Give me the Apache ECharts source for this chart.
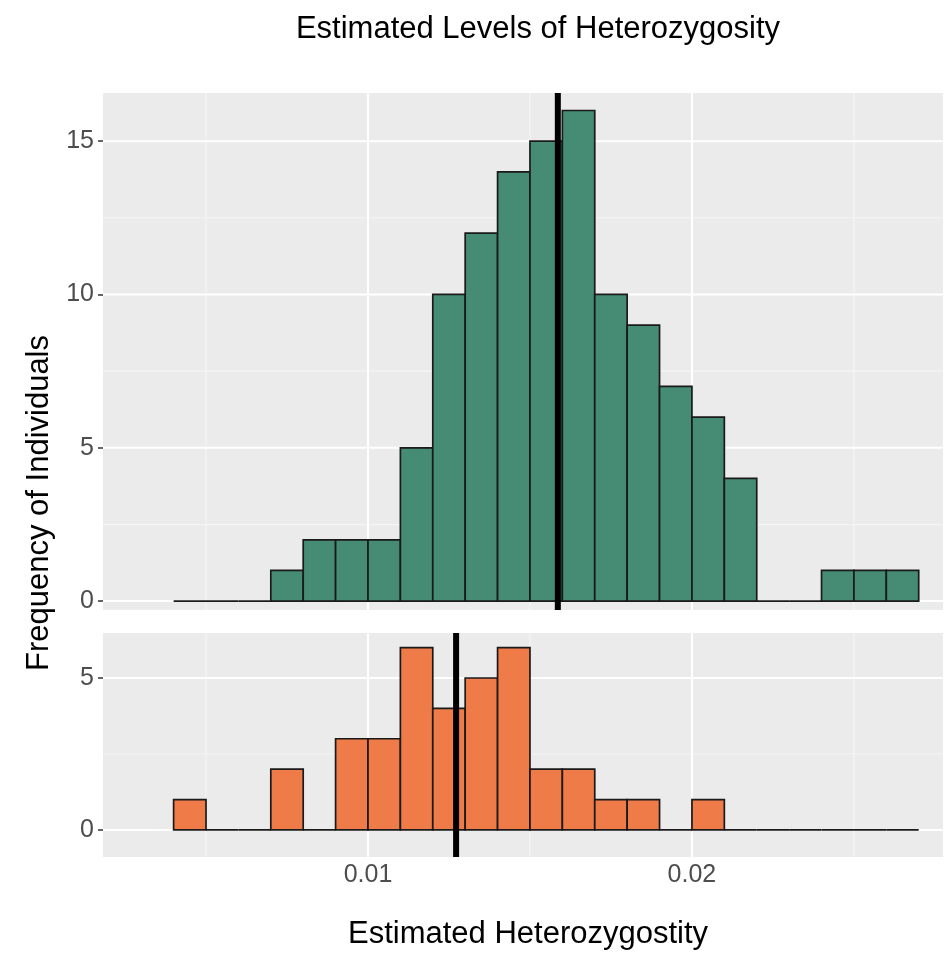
<!DOCTYPE html>
<html>
<head>
<meta charset="utf-8">
<title>Estimated Levels of Heterozygosity</title>
<script src="https://cdn.jsdelivr.net/npm/echarts@6/dist/echarts.min.js"></script>
<style>
  html, body { margin: 0; padding: 0; background: #fff; }
  #chart { width: 945px; height: 956px; }
</style>
</head>
<body>
<div id="chart"></div>
<script>
// histogram bins (left edge of each bin), width 0.001
const BIN_WIDTH = 0.001
const binStarts = [0.004, 0.005, 0.006, 0.007, 0.008, 0.009, 0.010, 0.011, 0.012, 0.013, 0.014, 0.015,
  0.016, 0.017, 0.018, 0.019, 0.020, 0.021, 0.022, 0.023, 0.024, 0.025, 0.026]
// counts per bin, top panel (green) and bottom panel (orange)
const countsTop = [0, 0, 0, 1, 2, 2, 2, 5, 10, 12, 14, 15, 16, 10, 9, 7, 6, 4, 0, 0, 1, 1, 1]
const countsBottom = [1, 0, 0, 2, 0, 3, 3, 6, 4, 5, 6, 2, 2, 1, 1, 0, 1, 0, 0, 0, 0, 0, 0]
// mean lines
const meanTop = 0.01586
const meanBottom = 0.01272
// tick labels / grid lines
const xTicks = [0.01, 0.02]
const xMinor = [0.005, 0.015, 0.025]
const yTicksTop = [0, 5, 10, 15]
const yMinorTop = [2.5, 7.5, 12.5]
const yTicksBottom = [0, 5]
const yMinorBottom = [2.5]

const FONT = '"Liberation Sans", Arial, Helvetica, sans-serif'
const X_MIN = 0.00182
const X_MAX = 0.02775

const chart = echarts.init(document.getElementById('chart'))

function histSeries(idx, counts, color) {
  return {
    type: 'custom',
    xAxisIndex: idx,
    yAxisIndex: idx,
    z: 3,
    encode: { x: [0, 1], y: 2 },
    data: binStarts.map((s, i) => [s, s + BIN_WIDTH, counts[i]]),
    renderItem(params, api) {
      const p0 = api.coord([api.value(0), api.value(2)])
      const p1 = api.coord([api.value(1), 0])
      if (api.value(2) === 0) {
        return {
          type: 'line',
          shape: { x1: p0[0], y1: p1[1], x2: p1[0], y2: p1[1] },
          style: { stroke: '#1a1a1a', lineWidth: 1.7 }
        }
      }
      return {
        type: 'rect',
        shape: { x: p0[0], y: p0[1], width: p1[0] - p0[0], height: p1[1] - p0[1] },
        style: { fill: color, stroke: '#1a1a1a', lineWidth: 1.7 }
      }
    }
  }
}

// grid lines drawn from the axis scale
function gridLines(idx, values, dir, width, color) {
  return {
    type: 'custom',
    xAxisIndex: idx,
    yAxisIndex: idx,
    z: 1,
    silent: true,
    data: values.map(v => [v]),
    renderItem(params, api) {
      const cs = params.coordSys
      const v = api.value(0)
      if (dir === 'h') {
        const y = api.coord([X_MIN, v])[1]
        return { type: 'line', shape: { x1: cs.x, y1: y, x2: cs.x + cs.width, y2: y }, style: { stroke: color, lineWidth: width } }
      }
      const x = api.coord([v, 0])[0]
      return { type: 'line', shape: { x1: x, y1: cs.y, x2: x, y2: cs.y + cs.height }, style: { stroke: color, lineWidth: width } }
    }
  }
}

function meanLine(idx, mean) {
  return {
    type: 'custom',
    xAxisIndex: idx,
    yAxisIndex: idx,
    z: 5,
    silent: true,
    data: [[mean]],
    renderItem(params, api) {
      const cs = params.coordSys
      const x = api.coord([api.value(0), 0])[0]
      return { type: 'line', shape: { x1: x, y1: cs.y, x2: x, y2: cs.y + cs.height }, style: { stroke: '#000', lineWidth: 6 } }
    }
  }
}

const tickStyle = { show: true, length: 5, lineStyle: { color: '#333', width: 1.5 } }
const labelStyle = { color: '#4d4d4d', fontSize: 25, fontFamily: FONT }

function xAxis(idx, showLabels) {
  return {
    type: 'value',
    gridIndex: idx,
    min: X_MIN,
    max: X_MAX,
    splitLine: { show: false },
    axisLine: { show: false },
    axisTick: Object.assign({}, tickStyle, { show: showLabels, customValues: xTicks }),
    axisLabel: Object.assign({}, labelStyle, {
      show: showLabels,
      margin: 6,
      customValues: xTicks,
      formatter: v => v.toFixed(2)
    })
  }
}

function yAxis(idx, min, max, ticks) {
  return {
    type: 'value',
    gridIndex: idx,
    min: min,
    max: max,
    splitLine: { show: false },
    axisLine: { show: false },
    axisTick: Object.assign({}, tickStyle, { customValues: ticks }),
    axisLabel: Object.assign({}, labelStyle, { margin: 9, customValues: ticks })
  }
}

const option = {
  animation: false,
  backgroundColor: '#fff',
  grid: [
    { left: 103, top: 93, width: 840, height: 517, show: true, backgroundColor: '#ebebeb', borderWidth: 0 },
    { left: 103, top: 633, width: 840, height: 224, show: true, backgroundColor: '#ebebeb', borderWidth: 0 }
  ],
  xAxis: [xAxis(0, false), xAxis(1, true)],
  yAxis: [yAxis(0, -0.29, 16.57, yTicksTop), yAxis(1, -0.89, 6.48, yTicksBottom)],
  graphic: [
    {
      type: 'text', x: 538, y: 29,
      style: { text: 'Estimated Levels of Heterozygosity', fill: '#000', fontSize: 31, fontFamily: FONT, align: 'center', verticalAlign: 'middle' }
    },
    {
      type: 'text', x: 528, y: 934,
      style: { text: 'Estimated Heterozygostity', fill: '#000', fontSize: 31, fontFamily: FONT, align: 'center', verticalAlign: 'middle' }
    },
    {
      type: 'text', x: 39, y: 503, rotation: Math.PI / 2,
      style: { text: 'Frequency of Individuals', fill: '#000', fontSize: 31, fontFamily: FONT, align: 'center', verticalAlign: 'middle' }
    }
  ],
  series: [
    gridLines(0, xMinor, 'v', 1.1, '#f6f6f6'),
    gridLines(0, yMinorTop, 'h', 1.1, '#f6f6f6'),
    gridLines(0, xTicks, 'v', 2, '#ffffff'),
    gridLines(0, yTicksTop, 'h', 2, '#ffffff'),
    gridLines(1, xMinor, 'v', 1.1, '#f6f6f6'),
    gridLines(1, yMinorBottom, 'h', 1.1, '#f6f6f6'),
    gridLines(1, xTicks, 'v', 2, '#ffffff'),
    gridLines(1, yTicksBottom, 'h', 2, '#ffffff'),
    histSeries(0, countsTop, '#468b73'),
    histSeries(1, countsBottom, '#ee7b48'),
    meanLine(0, meanTop),
    meanLine(1, meanBottom)
  ]
}

chart.setOption(option)
</script>
</body>
</html>
